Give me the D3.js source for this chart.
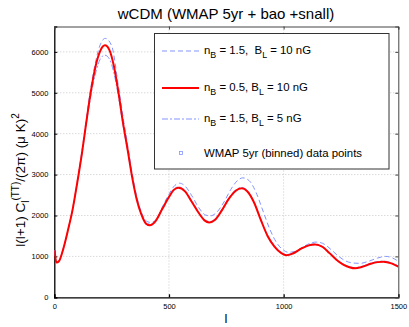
<!DOCTYPE html>
<html>
<head>
<meta charset="utf-8">
<style>
  body { margin: 0; background: #fff; }
  text { font-family: "Liberation Sans", Arial, sans-serif; fill: #000; }
  .tick text { font-size: 7.5px; }
  .grid line { stroke: #c8c8c8; stroke-dasharray: 1,2; }
</style>
</head>
<body>
<svg id="chart" width="409" height="327"></svg>
<script src="https://cdnjs.cloudflare.com/ajax/libs/d3/7.8.5/d3.min.js"></script>
<script>
// multipole l and l(l+1)C_l/2pi in muK^2
var redCurve = [ // nB = 0.5, BL = 10 nG
  [2,1150],[5,950],[10,850],[20,880],[40,1200],[60,1650],[80,2150],[100,2800],
  [120,3500],[140,4300],[160,5050],[180,5650],[200,6020],[221,6160],[240,6050],
  [260,5650],[280,5000],[300,4250],[320,3600],[340,2920],[360,2380],[380,2020],
  [400,1800],[417,1760],[440,1850],[470,2150],[500,2450],[520,2620],[541,2680],
  [570,2590],[600,2330],[630,2060],[655,1880],[675,1830],[700,1890],[730,2120],
  [760,2400],[790,2600],[817,2665],[840,2600],[870,2330],[900,1900],[930,1500],
  [960,1240],[990,1080],[1013,1030],[1040,1070],[1080,1200],[1110,1270],[1137,1290],
  [1170,1230],[1200,1080],[1230,920],[1260,800],[1290,730],[1311,710],[1340,740],
  [1380,820],[1410,860],[1435,870],[1470,830],[1500,750]
];
var dashCurve = [ // nB = 1.5, BL = 10 nG
  [2,1150],[5,960],[10,860],[20,890],[40,1210],[80,2170],[120,3560],[160,5150],
  [200,6170],[222,6330],[250,6150],[280,5150],[300,4400],[320,3720],[340,3020],
  [360,2460],[380,2080],[400,1870],[420,1830],[445,1900],[470,2200],[500,2520],
  [520,2700],[545,2790],[570,2720],[600,2480],[630,2190],[660,2010],[680,1990],
  [705,2060],[740,2330],[770,2640],[800,2860],[822,2920],[850,2850],[880,2560],
  [910,2110],[940,1660],[970,1330],[1000,1150],[1020,1100],[1050,1120],[1090,1250],
  [1120,1330],[1145,1350],[1180,1290],[1210,1150],[1240,1000],[1270,890],[1300,840],
  [1333,830],[1370,880],[1410,960],[1445,1000],[1475,960],[1500,880]
];
var dotCurve = [ // nB = 1.5, BL = 5 nG
  [2,1150],[5,950],[10,855],[20,885],[40,1205],[60,1655],[80,2155],[100,2800],
  [120,3480],[140,4250],[160,4950],[180,5480],[200,5820],[220,5920],[240,5830],
  [260,5480],[280,4900],[300,4200],[320,3570],[340,2920],[360,2390],[380,2040],
  [400,1830],[418,1790],[440,1870],[470,2170],[500,2470],[520,2640],[542,2700],
  [570,2610],[600,2350],[630,2080],[655,1900],[676,1850],[700,1910],[730,2140],
  [760,2420],[790,2620],[818,2685],[840,2620],[870,2350],[900,1920],[930,1520],
  [960,1260],[990,1095],[1014,1045],[1040,1085],[1080,1215],[1110,1285],[1138,1305],
  [1170,1245],[1200,1095],[1230,935],[1260,815],[1290,745],[1312,725],[1340,755],
  [1380,835],[1410,875],[1436,885],[1470,845],[1500,765]
];
var xTicks = [0, 500, 1000, 1500];
var yTicks = [0, 1000, 2000, 3000, 4000, 5000, 6000];
var legendLabels = [
  ["n", "B", " = 1.5,  B", "L", " = 10 nG"],
  ["n", "B", " = 0.5, B", "L", " = 10 nG"],
  ["n", "B", " = 1.5, B", "L", " = 5 nG"]
];

var svg = d3.select("#chart");
var x = d3.scaleLinear().domain([0, 1500]).range([54.3, 398.3]);
var y = d3.scaleLinear().domain([0, 6620]).range([297.3, 26.5]);
var L = 54.3, R = 398.3, T = 26.5, B = 297.3;

// grid
var grid = svg.append("g").attr("class", "grid");
grid.selectAll(".gx").data(xTicks.slice(1, -1)).enter().append("line")
  .attr("x1", d => x(d)).attr("x2", d => x(d)).attr("y1", T).attr("y2", B);
grid.selectAll(".gy").data(yTicks.slice(1)).enter().append("line")
  .attr("x1", L).attr("x2", R).attr("y1", d => y(d)).attr("y2", d => y(d));

// axes, matlab style inward ticks
var ax = svg.append("g").attr("transform", "translate(0," + B + ")")
  .call(d3.axisBottom(x).tickValues(xTicks).tickSize(-3).tickPadding(6).tickFormat(d3.format("d")));
var ay = svg.append("g").attr("transform", "translate(" + L + ",0)")
  .call(d3.axisLeft(y).tickValues(yTicks).tickSize(-3).tickPadding(6).tickFormat(d3.format("d")));
var axT = svg.append("g").attr("transform", "translate(0," + T + ")")
  .call(d3.axisTop(x).tickValues(xTicks).tickSize(-3).tickFormat(""));
var ayR = svg.append("g").attr("transform", "translate(" + R + ",0)")
  .call(d3.axisRight(y).tickValues(yTicks).tickSize(-3).tickFormat(""));
[ax, ay].forEach(g => { g.select(".domain").attr("stroke", "#000").attr("stroke-width", 1.3); });
[axT, ayR].forEach(g => { g.select(".domain").attr("stroke", "#444"); g.selectAll(".tick line").attr("stroke", "#444"); });
ax.selectAll(".tick line, .domain").attr("stroke-width", 1.3);

// curves
svg.append("clipPath").attr("id", "clip").append("rect")
  .attr("x", L).attr("y", T).attr("width", R - L).attr("height", B - T);
var line = d3.line().x(d => x(d[0])).y(d => y(d[1])).curve(d3.curveMonotoneX);
var plot = svg.append("g").attr("clip-path", "url(#clip)");
plot.append("path").datum(dashCurve).attr("d", line).attr("fill", "none")
  .attr("stroke", "#8394ff").attr("stroke-width", 1).attr("stroke-dasharray", "5,3");
plot.append("path").datum(dotCurve).attr("d", line).attr("fill", "none")
  .attr("stroke", "#8394ff").attr("stroke-width", 1).attr("stroke-dasharray", "6,2,2,2");
plot.append("path").datum(redCurve).attr("d", line).attr("fill", "none")
  .attr("stroke", "#ff0000").attr("stroke-width", 2);

// legend
var lg = svg.append("g");
lg.append("rect").attr("x", 154.5).attr("y", 33.5).attr("width", 234.5).attr("height", 135.5)
  .attr("fill", "#fff").attr("stroke", "#333");
var ly = [51, 88, 119, 153];
var styles = [
  { c: "#8394ff", w: 1, da: "5,3" },
  { c: "#ff0000", w: 2, da: null },
  { c: "#8394ff", w: 1, da: "6,2,2,2" }
];
legendLabels.forEach(function (parts, i) {
  lg.append("line").attr("x1", 162).attr("x2", 199).attr("y1", ly[i]).attr("y2", ly[i])
    .attr("stroke", styles[i].c).attr("stroke-width", styles[i].w)
    .attr("stroke-dasharray", styles[i].da);
  var t = lg.append("text").attr("x", 204).attr("y", ly[i] + 3).style("font-size", "11.4px")
    .attr("xml:space", "preserve");
  t.append("tspan").text(parts[0]);
  t.append("tspan").attr("dy", 4).style("font-size", "8.8px").text(parts[1]);
  t.append("tspan").attr("dy", -4).text(parts[2]);
  t.append("tspan").attr("dy", 4).style("font-size", "8.8px").text(parts[3]);
  t.append("tspan").attr("dy", -4).text(parts[4]);
});
lg.append("rect").attr("x", 179.5).attr("y", ly[3] - 1.5).attr("width", 3).attr("height", 3)
  .attr("fill", "none").attr("stroke", "#8394ff").attr("stroke-width", 0.8);
lg.append("text").attr("x", 204).attr("y", ly[3] + 4).style("font-size", "11.4px")
  .text("WMAP 5yr (binned) data points");

// title and axis labels
svg.append("text").attr("x", 226).attr("y", 19).attr("text-anchor", "middle")
  .style("font-size", "15px").text("wCDM (WMAP 5yr + bao +snall)");
svg.append("text").attr("x", 226).attr("y", 323).attr("text-anchor", "middle")
  .style("font-size", "13px").text("l");
var yl = svg.append("text").attr("transform", "translate(25,180) rotate(-90)")
  .attr("text-anchor", "middle").style("font-size", "13.5px");
yl.append("tspan").text("l(l+1) C");
yl.append("tspan").attr("dy", 4).style("font-size", "10px").text("l");
yl.append("tspan").attr("dy", -10).style("font-size", "10px").text("(TT)");
yl.append("tspan").attr("dy", 6).text("/(2\u03c0) (\u03bc K)");
yl.append("tspan").attr("dy", -6).style("font-size", "10px").text("2");
</script>
</body>
</html>
